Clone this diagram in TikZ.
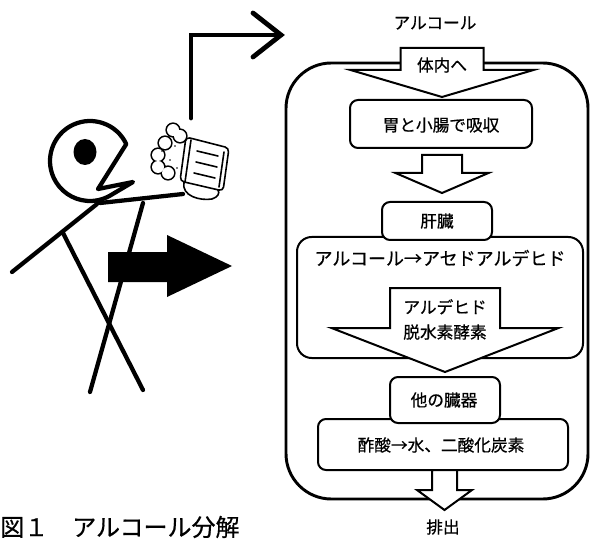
\documentclass[tikz,border=0pt]{standalone}
\usepackage{fontspec}
\setmainfont{Noto Sans CJK JP}[FakeBold=0.6]
\usetikzlibrary{arrows.meta}

\tikzset{
  outerbox/.style={rectangle, draw=black, line width=2.2pt,
    rounded corners=34pt, inner sep=0pt},
  flowbox/.style={rectangle, draw=black, fill=white, line width=1.5pt,
    rounded corners=6pt, inner sep=0pt},
  bigbox/.style={flowbox, rounded corners=11pt},
  blockarrow/.style={draw=black, fill=white, line width=1.5pt, line join=miter},
  lbl/.style={font=\fontsize{12.5}{15}\selectfont, inner sep=0pt},
  stick/.style={line width=3.2pt, line cap=round, line join=round},
  mugline/.style={line width=1.2pt, line cap=round, line join=round}
}

% hollow down arrow: x, top, shoulder, tip, half shaft, half wing
\newcommand{\flowarrow}[6]{%
  \draw[blockarrow] (#1-#5,#2) -- (#1+#5,#2) -- (#1+#5,#3) -- (#1+#6,#3)
    -- (#1,#4) -- (#1-#6,#3) -- (#1-#5,#3) -- cycle;}

\begin{document}
\begin{tikzpicture}[x=0.75pt, y=-0.75pt]
  \useasboundingbox (0,0) rectangle (591,541);

  % stick figure
  \draw[stick] (97,204) -- (12,272);
  \draw[stick] (63,233) -- (143,390);
  \draw[stick] (143,203) -- (90,392);
  \draw[stick] (100,203) -- (183,194);
  \draw[stick] (90,161) ++(-25:40) arc[start angle=-25, end angle=-300, radius=40]
    -- (133,182) -- (98,189) -- cycle;
  \fill (85,152) ellipse[x radius=11.5, y radius=13];

  % beer mug with foam
  \foreach \fx/\fy in {173/130, 180/136, 165/143, 158/155, 158/167, 168/173}
    \draw[line width=2.4pt] (\fx,\fy) circle[radius=6];
  \foreach \fx/\fy in {173/130, 180/136, 165/143, 158/155, 158/167, 168/173}
    \fill[white] (\fx,\fy) circle[radius=6];
  \foreach \fx/\fy in {162/151, 170/160, 175/146, 165/166, 177/168, 169/136}
    \fill (\fx,\fy) circle[radius=0.9];
  \draw[mugline, fill=white, rounded corners=3pt] (186,137) -- (229,148) -- (223,191) -- (180,181) -- cycle;
  \draw[mugline] (191,140) -- (185,182);
  \draw[mugline] (224,152) -- (219,187);
  \draw[mugline] (197,151) -- (218,156);
  \draw[mugline] (196,162) -- (217,167);
  \draw[mugline] (194,173) -- (215,178);
  \draw[mugline] (184,182) .. controls (181,196) and (200,201) .. (212,199)
    .. controls (218,197) and (220,193) .. (218,190);

  % drink goes in
  \coordinate (mugtop) at (191,118);
  \coordinate (intake) at (281,35);
  \draw[line width=3.6pt, line cap=round] (mugtop) |- (intake);
  \draw[line width=3.6pt, line cap=round, line join=miter] (intake) ++(-28,-22) -- (intake) -- ++(-28,22);

  % black arrow over the body
  \fill (108,252) -- (167,252) -- (167,235) -- (232,266) -- (167,297) -- (167,282) -- (108,282) -- cycle;

  % flow chart
  \node[outerbox, minimum width=226.5pt, minimum height=327pt] (body) at (437,281) {};
  \node[lbl] (alc) at (435,23) {アルコール};

  \flowarrow{442}{48}{70}{97}{41.5}{91.5}
  \node[lbl] (intake) at (442,65) {体内へ};

  \node[flowbox, minimum width=136.5pt, minimum height=36pt] (absorb) at (441,124) {};
  \node[lbl] (absorbtxt) at (441,125) {胃と小腸で吸収};

  \flowarrow{442}{155}{173}{193}{20}{46.5}

  \node[bigbox, minimum width=214.5pt, minimum height=90.75pt] (metab) at (440,297.5) {};
  \node[lbl, font=\fontsize{13.5}{16}\selectfont] (metabtxt) at (440,258) {アルコール→アセドアルデヒド};

  \node[flowbox, minimum width=82.5pt, minimum height=28.5pt] (liver) at (437,221) {};
  \node[lbl] (livertxt) at (437,221) {肝臓};

  \flowarrow{445}{288}{328}{372}{55}{113.5}
  \node[lbl, align=center, font=\fontsize{12.5}{18.75}\selectfont] (enzyme) at (445,319.5) {アルデヒド\\脱水素酵素};

  \node[flowbox, minimum width=187.5pt, minimum height=38.25pt] (final) at (443,444.5) {};
  \node[lbl] (finaltxt) at (441,445) {酢酸→水、二酸化炭素};

  \node[flowbox, minimum width=82.5pt, minimum height=34.5pt] (organs) at (445,400) {};
  \node[lbl] (organstxt) at (444,400) {他の臓器};

  \flowarrow{444.5}{470}{490}{510}{12.5}{27.5}
  \node[lbl] (excrete) at (443,527) {排出};

  % caption
  \node[anchor=west, inner sep=0pt, font=\fontsize{18}{20}\selectfont] (caption) at (0,527) {図１　アルコール分解};
\end{tikzpicture}
\end{document}
